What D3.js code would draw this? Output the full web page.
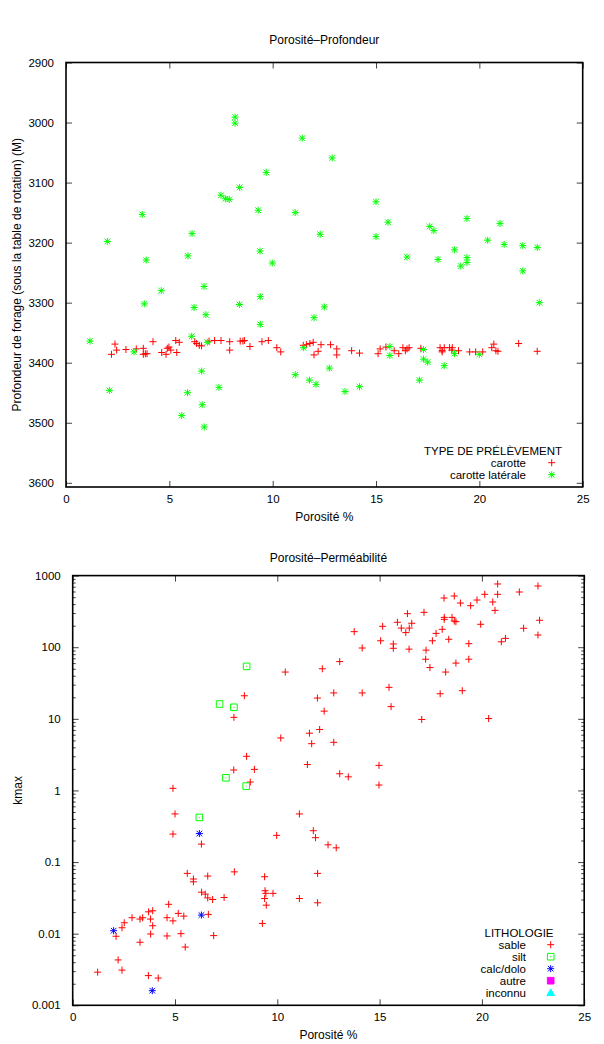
<!DOCTYPE html>
<html><head><meta charset="utf-8">
<script src="https://cdn.jsdelivr.net/npm/d3@7"></script>
<style>
html,body{margin:0;padding:0;background:#fff;}
svg text{font-family:"Liberation Sans",Arial,sans-serif;font-size:12px;fill:#000;}
svg .tick text{font-size:11.5px;}
svg .legend text{font-size:11.5px;}
</style></head>
<body>
<svg id="c" width="604" height="1044"></svg>
<script>
// ---------- DATA ----------
// Top chart: Porosité (%) vs Profondeur (M)
const carotte = [
[2.2,3386],[2.37,3369],[2.45,3379],[2.9,3378],[3.4,3377],[3.74,3376],[3.84,3385],[3.92,3385],[3.74,3386],
[4.21,3365],[4.63,3383],[4.84,3386],[4.9,3376],[4.98,3374],[5.07,3379],[5.31,3363],[5.48,3366],[5.36,3383],
[6.23,3365],[6.32,3368],[6.45,3371],[6.56,3372],[6.92,3364],[7.19,3363],[7.5,3363],[7.92,3365],[7.92,3379],
[8.43,3364],[8.56,3364],[8.63,3363],[8.9,3373],[9.48,3365],[9.79,3363],[10.2,3375],[10.39,3382],
[11.48,3371],[11.63,3370],[11.8,3368],[11.96,3366],[12.0,3387],[12.2,3381],[12.34,3370],[12.8,3370],
[13.1,3377],[13.1,3387],[13.82,3380],[14.2,3384],[15.1,3385],[15.2,3377],[15.48,3374],[15.88,3380],
[16.1,3385],[16.3,3375],[16.42,3380],[16.5,3377],[16.6,3375],[17.17,3376],[18.1,3375],[18.2,3380],
[18.2,3382],[18.3,3375],[18.56,3375],[18.69,3375],[18.67,3379],[18.99,3380],[19.53,3382],[19.82,3382],
[20.16,3382],[20.6,3375],[20.7,3369],[20.8,3380],[20.9,3381],[21.9,3368],[22.8,3381]
];
const carotteLaterale = [
[8.18,2991],[8.18,3001],[11.43,3026],[12.88,3059],[9.69,3083],[8.4,3108],[7.5,3121],[7.71,3127],[7.9,3128],
[15.0,3132],[9.3,3146],[11.09,3150],[3.69,3153],[19.4,3160],[15.58,3166],[21.0,3168],[17.6,3173],[17.8,3180],
[6.1,3185],[12.3,3186],[15.0,3190],[20.4,3196],[2.0,3198],[21.2,3203],[22.1,3205],[22.8,3208],[18.8,3212],
[9.39,3214],[5.9,3222],[16.5,3224],[19.4,3225],[18.0,3228],[3.88,3229],[19.4,3233],[9.98,3234],[19.1,3239],
[22.1,3247],[6.68,3273],[4.61,3280],[9.4,3290],[22.9,3300],[3.79,3302],[8.39,3303],[12.5,3307],[6.2,3308],
[6.77,3320],[12.0,3325],[9.4,3336],[6.08,3356],[1.16,3364],[6.84,3366],[15.67,3373],[11.5,3375],[17.3,3378],
[3.29,3382],[18.8,3385],[20.0,3386],[15.67,3388],[17.3,3394],[17.5,3399],[18.3,3405],[12.74,3409],[6.56,3414],
[11.09,3420],[17.1,3429],[11.78,3429],[12.1,3436],[14.2,3440],[7.4,3441],[2.1,3446],[13.5,3448],[5.88,3450],
[6.59,3470],[5.6,3488],[6.69,3507]
];
// Bottom chart: Porosité (%) vs kmax
const sable = [
[20.77,764],[22.74,716],[21.83,590],[20.14,548],[20.77,548],[18.15,486],[18.65,519],[18.95,414],[19.76,456],
[19.45,380],[20.53,428],[20.64,327],[19.94,209],[16.36,294],[17.17,307],[15.87,223],[16.06,185],[16.28,160],
[16.45,185],[16.57,216],[15.15,196],[15.05,123],[13.76,165],[14.15,97.5],[15.67,111],[15.67,96.6],[16.44,94],
[18.16,261],[18.16,245],[18.54,261],[18.65,232],[18.73,227],[18.06,178],[17.76,156],[17.58,123],[18.38,129],
[19.36,112],[17.27,91],[17.25,68],[17.46,52],[18.23,45],[18.73,60],[19.36,68],[20.95,119],[21.15,133],
[22.04,184],[22.74,148],[22.82,238],[20.33,10.1],[17.06,9.8],[17.96,22.4],[19.04,24.7],[15.46,27.5],
[15.56,14.8],[14.15,23],[12.76,23],[13.05,63],[12.76,4.7],[13.05,1.71],[13.47,1.55],[14.97,2.24],[14.97,1.19],
[10.39,45],[12.2,50],[8.39,21],[7.88,10.5],[11.96,19.5],[12.29,12.8],[10.17,5.4],[11.57,6.3],[12.07,7.1],
[11.68,4.5],[11.47,2.3],[8.5,3.0],[7.87,1.93],[8.88,1.97],[8.68,1.31],
[4.9,1.07],[5.0,0.47],[4.9,0.246],[6.29,0.178],[11.08,0.47],[9.97,0.236],[11.76,0.274],[11.87,0.219],
[12.48,0.174],[12.88,0.158],[5.6,0.0695],[5.9,0.058],[5.9,0.053],[6.6,0.0637],[7.9,0.073],[9.38,0.0624],
[11.97,0.0695],[6.3,0.038],[6.48,0.0357],[9.4,0.0398],[9.44,0.0366],[9.79,0.0366],[9.38,0.031],[6.6,0.0316],
[6.84,0.030],[7.4,0.032],[11.08,0.031],[6.63,0.0186],[6.89,0.0094],[9.46,0.025],[9.27,0.0139],[11.97,0.027],
[4.69,0.0257],[4.61,0.0167],[4.9,0.0151],[5.16,0.0192],[5.43,0.0176],[5.29,0.010],[4.61,0.0093],[5.5,0.0065],
[3.71,0.0202],[3.91,0.0209],[3.8,0.016],[3.91,0.0129],[3.29,0.016],[3.42,0.0167],[2.9,0.0167],[2.52,0.0142],
[2.41,0.0121],[2.12,0.0092],[3.81,0.0099],[3.29,0.0076],[2.22,0.0043],[2.41,0.0031],[1.22,0.0029],
[3.7,0.0026],[4.18,0.0024]
];
const silt = [[8.5,54],[7.18,16.1],[7.88,14.5],[7.49,1.5],[8.48,1.15],[6.19,0.42]];
const calcDolo = [[6.19,0.25],[6.29,0.0182],[2.0,0.011],[3.89,0.0016]];
const autre = [];
const inconnu = [];

const xTicks = [0,5,10,15,20,25];
const depthTicks = [2900,3000,3100,3200,3300,3400,3500,3600];
const kTicks = [0.001,0.01,0.1,1,10,100,1000];
const kTickLabels = ["0.001","0.01","0.1","1","10","100","1000"];

// ---------- DRAW ----------
const svg = d3.select("#c");
const RED="#ff0000", GREEN="#00ff00", BLUE="#0000ff", MAG="#ff00ff", CYAN="#00ffff";

const symPlus = r => `M${-r},0H${r}M0,${-r}V${r}`;
const symStar = (r,d) => `M${-r},0H${r}M0,${-r}V${r}M${-d},${-d}L${d},${d}M${-d},${d}L${d},${-d}`;
const symSquare = r => `M${-r},${-r}H${r}V${r}H${-r}Z`;
const symTri = r => `M0,${-r}L${r},${r*0.75}L${-r},${r*0.75}Z`;

function drawMarks(g, data, x, y, type, color){
  const sel = g.append("g").selectAll("path").data(data).join("path")
    .attr("transform", d => `translate(${x(d[0])},${y(d[1])})`);
  styleSym(sel, type, color);
}
function styleSym(sel, type, color){
  if(type==="plus") sel.attr("d", symPlus(3.5)).attr("fill","none").attr("stroke",color).attr("stroke-width",1);
  else if(type==="star") sel.attr("d", symStar(3.5,2.8)).attr("fill","none").attr("stroke",color).attr("stroke-width",1);
  else if(type==="square") sel.attr("d", symSquare(3.3)+"M-0.5,0H0.5").attr("fill","none").attr("stroke",color).attr("stroke-width",1);
  else if(type==="fsquare") sel.attr("d", symSquare(3.3)).attr("fill",color).attr("stroke",color).attr("stroke-width",1);
  else if(type==="tri") sel.attr("d", symTri(3.8)).attr("fill",color).attr("stroke",color).attr("stroke-width",1);
}

function frame(g, L, R, T, B){
  g.append("rect").attr("x",L).attr("y",T).attr("width",R-L).attr("height",B-T)
    .attr("fill","none").attr("stroke","#000").attr("stroke-width",1.6);
}

// ----- Top chart -----
{
  const L=66, R=582.7, T=62.5, B=487;
  const x = d3.scaleLinear().domain([0,25]).range([L,R]);
  const y = d3.scaleLinear().domain([2900,3607]).range([T,B]);
  const g = svg.append("g");

  const xb = d3.axisBottom(x).tickValues(xTicks).tickSize(-6).tickPadding(12).tickFormat(d3.format("d"));
  const gx = g.append("g").attr("transform",`translate(0,${B})`).call(xb);
  const gxt = g.append("g").attr("transform",`translate(0,${T})`).call(d3.axisTop(x).tickValues(xTicks).tickSize(-6).tickFormat(""));
  const yl = d3.axisLeft(y).tickValues(depthTicks).tickSize(-6).tickPadding(12).tickFormat(d3.format("d"));
  const gy = g.append("g").attr("transform",`translate(${L},0)`).call(yl);
  const gyr = g.append("g").attr("transform",`translate(${R},0)`).call(d3.axisRight(y).tickValues(depthTicks).tickSize(-6).tickFormat(""));
  [gx,gxt,gy,gyr].forEach(a=>{ a.select(".domain").remove(); a.selectAll("line").attr("stroke","#444"); a.selectAll("text").attr("font-size",null).attr("font-family",null).attr("fill","#000");});
  gx.selectAll("text").attr("dy","0.35em").attr("y",12);

  drawMarks(g, carotte, x, y, "plus", RED);
  drawMarks(g, carotteLaterale, x, y, "star", GREEN);
  frame(g, L, R, T, B);

  g.append("text").attr("x",(L+R)/2).attr("y",40).attr("dy","0.35em").attr("text-anchor","middle").text("Porosité–Profondeur");
  g.append("text").attr("x",(L+R)/2).attr("y",517).attr("dy","0.35em").attr("text-anchor","middle").text("Porosité %");
  g.append("text").attr("transform",`translate(17,${(T+B)/2}) rotate(-90)`).attr("dy","0.35em").attr("text-anchor","middle")
    .text("Profondeur de forage (sous la table de rotation) (M)");

  const lg = g.append("g").attr("class","legend");
  lg.append("text").attr("x",493).attr("y",450.5).attr("dy","0.35em").attr("text-anchor","middle").text("TYPE DE PRÉLÈVEMENT");
  const items = [["carotte","plus",RED],["carotte latérale","star",GREEN]];
  items.forEach((it,i)=>{
    const yy = 462.7 + i*12;
    lg.append("text").attr("x",526).attr("y",yy).attr("dy","0.35em").attr("text-anchor","end").text(it[0]);
    styleSym(lg.append("path").attr("transform",`translate(551.7,${yy})`), it[1], it[2]);
  });
}

// ----- Bottom chart -----
{
  const L=72.7, R=584.2, T=575.6, B=1005.3;
  const x = d3.scaleLinear().domain([0,25]).range([L,R]);
  const y = d3.scaleLog().domain([0.001,1000]).range([B,T]);
  const g = svg.append("g");

  const minor = [];
  for(let e=-3;e<3;e++) for(let m=2;m<=9;m++) minor.push(m*Math.pow(10,e));

  const gx = g.append("g").attr("transform",`translate(0,${B})`).call(d3.axisBottom(x).tickValues(xTicks).tickSize(-6).tickPadding(12).tickFormat(d3.format("d")));
  const gxt = g.append("g").attr("transform",`translate(0,${T})`).call(d3.axisTop(x).tickValues(xTicks).tickSize(-6).tickFormat(""));
  const gy = g.append("g").attr("transform",`translate(${L},0)`).call(d3.axisLeft(y).tickValues(kTicks).tickSize(-6).tickPadding(12).tickFormat((d,i)=>kTickLabels[i]));
  const gyr = g.append("g").attr("transform",`translate(${R},0)`).call(d3.axisRight(y).tickValues(kTicks).tickSize(-6).tickFormat(""));
  const gym = g.append("g").attr("transform",`translate(${L},0)`).call(d3.axisLeft(y).tickValues(minor).tickSize(-3).tickFormat(""));
  const gymr = g.append("g").attr("transform",`translate(${R},0)`).call(d3.axisRight(y).tickValues(minor).tickSize(-3).tickFormat(""));
  [gx,gxt,gy,gyr,gym,gymr].forEach(a=>{ a.select(".domain").remove(); a.selectAll("line").attr("stroke","#444"); a.selectAll("text").attr("font-size",null).attr("font-family",null).attr("fill","#000");});
  gx.selectAll("text").attr("dy","0.35em").attr("y",12);

  drawMarks(g, sable, x, y, "plus", RED);
  drawMarks(g, silt, x, y, "square", GREEN);
  drawMarks(g, calcDolo, x, y, "star", BLUE);
  drawMarks(g, autre, x, y, "fsquare", MAG);
  drawMarks(g, inconnu, x, y, "tri", CYAN);
  frame(g, L, R, T, B);

  g.append("text").attr("x",(L+R)/2).attr("y",558).attr("dy","0.35em").attr("text-anchor","middle").text("Porosité–Perméabilité");
  g.append("text").attr("x",(L+R)/2).attr("y",1035).attr("dy","0.35em").attr("text-anchor","middle").text("Porosité %");
  g.append("text").attr("transform",`translate(18,${(T+B)/2}) rotate(-90)`).attr("dy","0.35em").attr("text-anchor","middle").text("kmax");

  const lg = g.append("g").attr("class","legend");
  lg.append("text").attr("x",519).attr("y",932.7).attr("dy","0.35em").attr("text-anchor","middle").text("LITHOLOGIE");
  const items = [["sable","plus",RED],["silt","square",GREEN],["calc/dolo","star",BLUE],["autre","fsquare",MAG],["inconnu","tri",CYAN]];
  items.forEach((it,i)=>{
    const yy = 944.7 + i*12;
    lg.append("text").attr("x",526).attr("y",yy).attr("dy","0.35em").attr("text-anchor","end").text(it[0]);
    styleSym(lg.append("path").attr("transform",`translate(550.7,${yy})`), it[1], it[2]);
  });
}
</script>
</body></html>
